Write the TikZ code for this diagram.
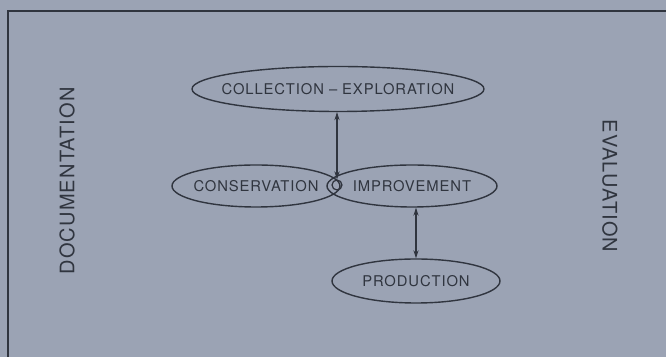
\documentclass[tikz,border=0pt]{standalone}
\usepackage{fontspec}
\setmainfont{TeX Gyre Heros}[LetterSpace=6]
\usepackage{tikz}
\usetikzlibrary{positioning}
\usetikzlibrary{shapes.geometric,arrows.meta}

\definecolor{paper}{HTML}{9BA3B4}
\definecolor{ink}{HTML}{30353F}

% text that does not widen the ellipse round it
\newcommand{\fieldtext}[1]{\makebox[0pt]{#1}}

\tikzset{
	field/.style={draw=ink, ellipse, inner sep=0pt, line width=0.7pt,
		text=ink, font=\fontsize{7.4}{8}\selectfont},
	side/.style={text=ink, font=\fontsize{10}{11}\selectfont},
	link/.style={draw=ink, line width=0.6pt,
		{Stealth[length=4pt,width=2.6pt]}-{Stealth[length=4pt,width=2.6pt]}},
}

\begin{document}
\begin{tikzpicture}[x=0.5pt, y=-0.5pt]

	% page: one px of the reference is half a point
	\useasboundingbox[fill=paper] (0,0) rectangle (666,357);
	\draw[ink, line width=1pt] (8,357) -- (8,11) -- (666,11);

	% the four fields
	\node[field, minimum width=146pt, minimum height=22.5pt] (coll) at (338,89) {\fieldtext{COLLECTION -- EXPLORATION}};
	\node[field, minimum width=84pt, minimum height=21pt] (cons) at (256,186) {\fieldtext{CONSERVATION}};
	\node[field, minimum width=85pt, minimum height=21pt] (impr) at (412,186) {\fieldtext{IMPROVEMENT}};
	\node[field, minimum width=84pt, minimum height=22pt] (prod) at (416,281) {\fieldtext{PRODUCTION}};

	% little loop where the two middle fields meet
	\node[draw=ink, circle, line width=0.6pt, minimum size=5pt, inner sep=0pt] (knot) at (337,185) {};

	% sides
	\node[side, rotate=90] (docu) at (67,181) {DOCUMENTATION};
	\node[side, rotate=-90] (eval) at (610,186) {EVALUATION};

	% connectors
	\draw[link] (coll.south -| knot.north) -- (knot.north);
	\draw[link] (prod.north |- impr.south) -- (prod.north);

\end{tikzpicture}
\end{document}
